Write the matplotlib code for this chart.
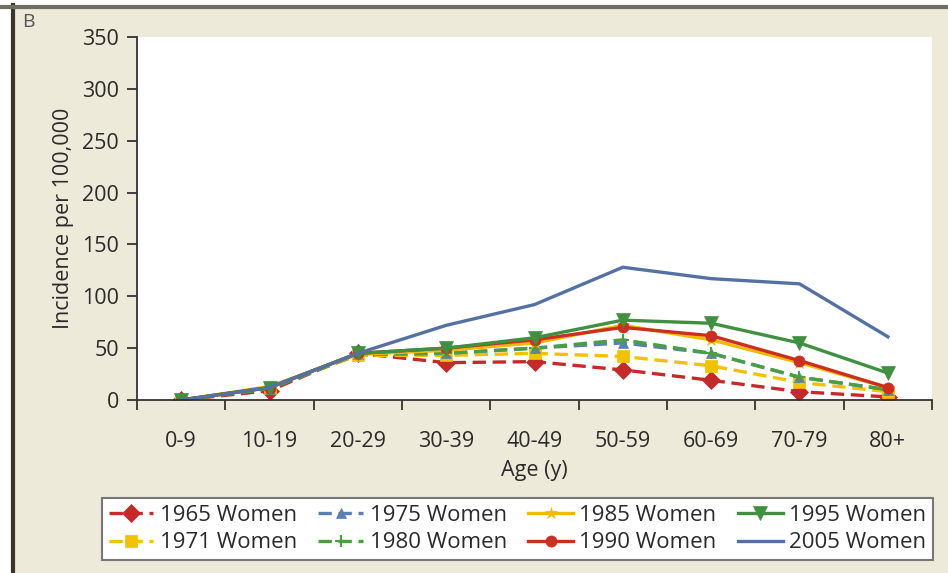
import numpy as np
import matplotlib.pyplot as plt
from matplotlib.patches import Rectangle
from matplotlib.lines import Line2D

plt.rcParams['font.family'] = ['Open Sans', 'DejaVu Sans']

# age groups and incidence per 100,000 (women)
ages = ['0-9', '10-19', '20-29', '30-39', '40-49', '50-59', '60-69', '70-79', '80+']

w1965 = [0, 9, 45, 36, 37, 29, 19, 8, 3]
w1971 = [0, 12, 43, 43, 45, 42, 33, 17, 8]
w1975 = [0, 11, 44, 45, 50, 55, 45, 22, 10]
w1980 = [0, 11, 44, 45, 50, 58, 45, 22, 10]
w1985 = [0, 13, 44, 48, 55, 72, 58, 36, 12]
w1990 = [0, 12, 45, 50, 58, 70, 62, 38, 12]
w1995 = [0, 12, 45, 50, 60, 77, 74, 55, 26]
w2005 = [0, 12, 45, 72, 92, 128, 117, 112, 61]

series = [
    ('1965 Women', w1965, '#c42a2a', (0, (4, 2)), 'D', 9),
    ('1971 Women', w1971, '#f2c200', (0, (4, 2)), 's', 9),
    ('1975 Women', w1975, '#5b7fb5', (0, (4, 2)), '^', 7),
    ('1980 Women', w1980, '#48a040', (0, (4, 2)), '+', 9),
    ('1985 Women', w1985, '#f5b800', '-', '*', 9),
    ('1990 Women', w1990, '#cc2f22', '-', 'o', 8),
    ('1995 Women', w1995, '#3f9140', '-', 'v', 10),
    ('2005 Women', w2005, '#5570a3', '-', None, 0),
]

fig = plt.figure(figsize=(9.48, 5.73), dpi=100)
fig.patch.set_facecolor('white')

# beige panel with dark frame on top and left
W, H = 948, 573
fig.patches.append(Rectangle((14 / W, 0), 1 - 14 / W, 1 - 8 / H,
                             transform=fig.transFigure, facecolor='#eeeada',
                             edgecolor='none', zorder=-10))
fig.add_artist(Line2D([12.5 / W, 12.5 / W], [0, 1 - 5 / H], transform=fig.transFigure,
                      color='#3a3528', lw=3))
fig.add_artist(Line2D([0, 1], [1 - 6.5 / H, 1 - 6.5 / H], transform=fig.transFigure,
                      color='#6e6e62', lw=3))

ax = fig.add_axes([137 / W, 173 / H, 795 / W, 363 / H])
ax.set_facecolor('white')

x = np.arange(len(ages))
for name, vals, col, ls, mk, ms in series:
    ax.plot(x, vals, color=col, linestyle=ls, linewidth=2.4, marker=mk,
            markersize=ms, markeredgewidth=1.5 if mk == '+' else 0.5,
            markeredgecolor=col, label=name)

ax.set_xlim(-0.5, len(ages) - 0.5)
ax.set_ylim(0, 350)
ax.set_yticks(np.arange(0, 351, 50))
ax.set_xticks(x)
ax.set_xticklabels(ages)
ax.set_xticks(np.arange(-0.5, len(ages), 1), minor=True)
ax.tick_params(axis='x', which='major', length=0, pad=22, labelsize=15.5, labelcolor='#2a2a2a')
ax.tick_params(axis='x', which='minor', length=7, width=1.3, color='#333333', direction='out')
ax.tick_params(axis='y', length=7, width=1.3, color='#333333', direction='out',
               labelsize=15.5, labelcolor='#2a2a2a', pad=6)

for s in ['top', 'right']:
    ax.spines[s].set_visible(False)
for s in ['left', 'bottom']:
    ax.spines[s].set_color('#333333')
    ax.spines[s].set_linewidth(1.3)

ax.set_xlabel('Age (y)', fontsize=15.5, color='#2a2a2a', labelpad=6)
ax.set_ylabel('Incidence per 100,000', fontsize=15.5, color='#2a2a2a', labelpad=6)

fig.text(22 / W, 1 - 22 / H, 'B', fontsize=14, color='#555555', va='center')

leg = fig.legend(loc='lower left', bbox_to_anchor=(102 / W, 13 / H, 831 / W, 67 / H),
                 mode='expand', ncol=4, fontsize=16, handlelength=2.0,
                 handletextpad=0.3, columnspacing=0.6, labelspacing=0.3,
                 borderaxespad=0, fancybox=False, framealpha=1, borderpad=0.3)
leg.get_frame().set_edgecolor('#777777')
leg.get_frame().set_linewidth(1.5)
for t in leg.get_texts():
    t.set_color('#2a2a2a')

fig.savefig('out.png', dpi=100, facecolor=fig.get_facecolor())
